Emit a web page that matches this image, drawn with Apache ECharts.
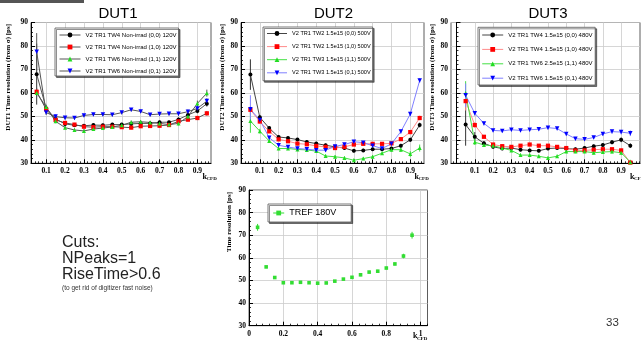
<!DOCTYPE html>
<html>
<head>
<meta charset="utf-8">
<script src="https://cdn.jsdelivr.net/npm/echarts@6/dist/echarts.min.js"></script>
<style>
html,body{margin:0;padding:0;background:#fff;}
#chart{width:641px;height:341px;}
</style>
</head>
<body>
<div id="chart"></div>
<script>
// k_CFD scan points shared by every graph
const kCFD = [0.05, 0.10, 0.15, 0.20, 0.25, 0.30, 0.35, 0.40, 0.45, 0.50, 0.55, 0.60, 0.65, 0.70, 0.75, 0.80, 0.85, 0.90, 0.95];

// DUT1 time resolution [ps], non-irradiated, 120 V
const dut1Names = ['V2 TR1 TW4 Non-irrad (0,0) 120V', 'V2 TR1 TW4 Non-irrad (1,0) 120V', 'V2 TR1 TW6 Non-irrad (1,1) 120V', 'V2 TR1 TW6 Non-irrad (0,1) 120V'];
const dut1_00 = [68.0, 53.5, 48.9, 46.8, 46.2, 46.0, 46.3, 46.2, 46.5, 46.5, 46.8, 47.0, 47.0, 47.5, 47.5, 48.7, 50.6, 52.3, 55.4];
const dut1_10 = [60.5, 53.0, 48.5, 47.2, 46.5, 45.6, 45.4, 45.6, 45.6, 45.4, 45.2, 45.8, 45.9, 46.0, 46.3, 47.9, 48.6, 49.3, 51.3];
const dut1_11 = [60.0, 54.0, 47.9, 45.2, 44.2, 43.8, 44.6, 45.0, 45.5, 46.2, 47.5, 47.7, 47.4, 47.0, 46.5, 47.0, 49.9, 55.5, 59.9];
const dut1_01 = [77.5, 51.6, 49.9, 49.4, 49.3, 50.4, 50.8, 50.8, 50.7, 51.6, 52.8, 52.1, 50.7, 51.0, 51.1, 51.1, 52.0, 53.4, 56.5];
const dut1_00_err = [13.0, 1.2, 0.8, 0.7, 0.7, 0.7, 0.7, 0.7, 0.7, 0.7, 0.7, 0.7, 0.7, 0.7, 0.7, 0.8, 0.9, 1.0, 1.2];
const dut1_10_err = [1.5, 1.0, 0.8, 0.7, 0.7, 0.7, 0.7, 0.7, 0.7, 0.7, 0.7, 0.7, 0.7, 0.7, 0.7, 0.8, 0.8, 0.9, 1.0];
const dut1_11_err = [1.5, 1.0, 0.8, 0.7, 0.7, 0.7, 0.7, 0.7, 0.7, 0.7, 0.7, 0.7, 0.7, 0.7, 0.7, 0.8, 1.0, 1.2, 1.5];
const dut1_01_err = [8.0, 1.0, 0.8, 0.7, 0.7, 0.7, 0.7, 0.7, 0.7, 0.7, 0.7, 0.7, 0.7, 0.7, 0.7, 0.8, 0.9, 1.0, 1.2];

// DUT2 time resolution [ps], 1.5e15, 500 V
const dut2Names = ['V2 TR1 TW2 1.5e15 (0,0) 500V', 'V2 TR1 TW2 1.5e15 (1,0) 500V', 'V2 TR1 TW3 1.5e15 (1,1) 500V', 'V2 TR1 TW3 1.5e15 (0,1) 500V'];
const dut2_00 = [67.8, 49.6, 45.0, 41.2, 40.8, 40.1, 39.1, 38.4, 37.7, 37.0, 36.5, 35.3, 35.5, 36.0, 36.0, 36.3, 37.5, 40.0, 46.3];
const dut2_10 = [52.8, 47.8, 43.6, 40.2, 39.4, 38.4, 38.1, 37.4, 37.0, 36.5, 37.0, 38.0, 38.3, 38.3, 38.3, 38.5, 40.3, 43.3, 49.3];
const dut2_11 = [48.0, 43.7, 39.5, 36.3, 36.3, 35.9, 35.7, 35.2, 33.1, 32.8, 32.3, 31.3, 32.0, 32.8, 34.3, 35.8, 35.8, 34.0, 36.5];
const dut2_01 = [53.0, 48.5, 40.9, 37.7, 36.9, 36.3, 36.0, 35.6, 35.6, 37.2, 38.0, 39.2, 38.8, 37.5, 36.3, 38.3, 43.5, 51.0, 65.3];
const dut2_00_err = [6.5, 1.0, 0.8, 0.7, 0.7, 0.7, 0.7, 0.7, 0.7, 0.7, 0.7, 0.7, 0.7, 0.7, 0.7, 0.7, 0.8, 0.9, 1.0];
const dut2_10_err = [1.5, 1.0, 0.8, 0.7, 0.7, 0.7, 0.7, 0.7, 0.7, 0.7, 0.7, 0.7, 0.7, 0.7, 0.7, 0.7, 0.8, 0.9, 1.0];
const dut2_11_err = [5.0, 1.0, 0.8, 0.7, 0.7, 0.7, 0.7, 0.7, 0.7, 0.7, 0.7, 0.7, 0.7, 0.7, 0.7, 0.8, 1.0, 1.2, 1.5];
const dut2_01_err = [6.0, 1.0, 0.8, 0.7, 0.7, 0.7, 0.7, 0.7, 0.7, 0.7, 0.7, 0.7, 0.7, 0.7, 0.7, 0.8, 0.9, 1.0, 1.0];

// DUT3 time resolution [ps], 480 V
const dut3Names = ['V2 TR1 TW4 1.5e15 (0,0) 480V', 'V2 TR1 TW4 1.5e15 (1,0) 480V', 'V2 TR1 TW6 2.5e15 (1,1) 480V', 'V2 TR1 TW6 1.5e15 (0,1) 480V'];
const dut3_00 = [46.5, 41.3, 38.5, 37.0, 36.3, 36.5, 35.8, 35.5, 35.3, 36.3, 36.5, 36.3, 36.0, 36.5, 37.3, 37.8, 39.0, 40.0, 37.5];
const dut3_10 = [56.5, 46.3, 41.3, 38.0, 37.3, 37.0, 37.5, 38.0, 37.5, 37.5, 37.0, 36.5, 35.5, 35.5, 35.8, 36.0, 36.0, 35.5, 30.3];
const dut3_11 = [60.0, 39.0, 37.8, 37.5, 36.5, 35.5, 33.5, 33.5, 33.0, 32.3, 33.0, 35.0, 35.0, 35.0, 34.5, 34.8, 35.0, 34.5, 30.5];
const dut3_01 = [59.0, 51.3, 47.0, 44.0, 43.8, 44.3, 44.0, 44.3, 44.5, 45.2, 44.8, 42.5, 40.5, 40.2, 41.0, 42.5, 43.5, 43.3, 42.8];
const dut3_00_err = [9.0, 2.0, 1.0, 0.8, 0.7, 0.7, 0.7, 0.7, 0.7, 0.7, 0.7, 0.7, 0.7, 0.7, 0.7, 0.8, 0.9, 1.0, 1.0];
const dut3_10_err = [4.0, 1.2, 0.8, 0.7, 0.7, 0.7, 0.7, 0.7, 0.7, 0.7, 0.7, 0.7, 0.7, 0.7, 0.7, 0.8, 0.8, 0.9, 1.0];
const dut3_11_err = [5.0, 1.2, 0.8, 0.7, 0.7, 0.7, 0.7, 0.7, 0.7, 0.7, 0.7, 0.7, 0.7, 0.7, 0.7, 0.8, 0.9, 1.0, 1.0];
const dut3_01_err = [5.0, 1.0, 0.8, 0.7, 0.7, 0.7, 0.7, 0.7, 0.7, 0.7, 0.7, 0.7, 0.7, 0.7, 0.7, 0.8, 0.9, 1.0, 1.2];

// Reference (TREF) time resolution [ps], 180 V
const trefNames = ['TREF 180V'];
const tref = [73.5, 56.0, 51.3, 49.0, 49.0, 49.2, 49.0, 48.8, 48.9, 49.7, 50.6, 51.4, 52.5, 53.7, 54.1, 55.5, 57.3, 60.8, 70.0];
const tref_err = [1.5, 0.6, 0.6, 0.5, 0.5, 0.5, 0.5, 0.5, 0.5, 0.5, 0.5, 0.5, 0.6, 0.6, 0.6, 0.6, 0.7, 1.0, 1.5];

// Tick labels
const kTicks = [0.1, 0.2, 0.3, 0.4, 0.5, 0.6, 0.7, 0.8, 0.9];
const kTicksTref = [0, 0.2, 0.4, 0.6, 0.8, 1];

// ---------------------------------------------------------------------------
const SERIF = '"Liberation Serif", "DejaVu Serif", serif';
const SANS = '"Liberation Sans", Arial, sans-serif';

const MARK = {
  k: { symbol: 'circle', size: 4, rot: 0, color: '#000000' },
  r: { symbol: 'rect', size: 4.2, rot: 0, color: '#ff0000' },
  g: { symbol: 'triangle', size: 4, rot: 0, color: '#22dd22' },
  b: { symbol: 'triangle', size: 4.5, rot: 180, color: '#0000ff' },
  s: { symbol: 'rect', size: 3.6, rot: 0, color: '#33dd33' }
};

function minorSteps(lo, hi, step) {
  const out = [];
  for (let v = Math.ceil(lo / step - 1e-9); v * step <= hi + 1e-9; v++) out.push(+(v * step).toFixed(4));
  return out;
}

const panels = [
  {
    grid: { left: 31, top: 22.5, width: 180, height: 140.8 },
    xMin: 0.02, xMax: 0.972, major: kTicks, minorStep: 0.02,
    legend: { names: dut1Names, left: 55, top: 28, pad: [3, 2, 1, 4], gap: 4, textW: 90, itemW: 21, font: 6 },
    curves: [
      { name: dut1Names[0], v: dut1_00, e: dut1_00_err, m: 'k', line: '#555555' },
      { name: dut1Names[1], v: dut1_10, e: dut1_10_err, m: 'r', line: '#555555' },
      { name: dut1Names[2], v: dut1_11, e: dut1_11_err, m: 'g', line: '#555555' },
      { name: dut1Names[3], v: dut1_01, e: dut1_01_err, m: 'b', line: '#555555' }
    ]
  },
  {
    grid: { left: 241, top: 22.5, width: 183, height: 140.8 },
    xMin: 0, xMax: 0.973, major: kTicks, minorStep: 0.02,
    legend: { names: dut2Names, left: 263, top: 27, pad: [2.5, 2, 4, 3.5], gap: 5.1, textW: 71, itemW: 20, font: 5.6 },
    curves: [
      { name: dut2Names[0], v: dut2_00, e: dut2_00_err, m: 'k', line: '#444444' },
      { name: dut2Names[1], v: dut2_10, e: dut2_10_err, m: 'r', line: '#ff8a8a' },
      { name: dut2Names[2], v: dut2_11, e: dut2_11_err, m: 'g', line: '#44e044' },
      { name: dut2Names[3], v: dut2_01, e: dut2_01_err, m: 'b', line: '#8080ff' }
    ]
  },
  {
    grid: { left: 451, top: 22.5, width: 189, height: 140.8 },
    xMin: -0.03, xMax: 1.003, major: kTicks, minorStep: 0.02,
    legend: { names: dut3Names, left: 478, top: 27.3, pad: [3.7, 2, 2.8, 3.7], gap: 6.4, textW: 85, itemW: 21, font: 6 },
    curves: [
      { name: dut3Names[0], v: dut3_00, e: dut3_00_err, m: 'k', line: '#444444' },
      { name: dut3Names[1], v: dut3_10, e: dut3_10_err, m: 'r', line: '#ff8a8a' },
      { name: dut3Names[2], v: dut3_11, e: dut3_11_err, m: 'g', line: '#44e044' },
      { name: dut3Names[3], v: dut3_01, e: dut3_01_err, m: 'b', line: '#8080ff' }
    ]
  },
  {
    grid: { left: 249, top: 190, width: 178.5, height: 135.7 },
    xMin: 0, xMax: 1.04, major: kTicksTref, minorStep: 0.04,
    legend: { names: trefNames, left: 268, top: 204, pad: [3.5, 1, 3.5, 4.7], gap: 0, textW: 61, itemW: 11, font: 9, lineH: 11 },
    curves: [
      { name: trefNames[0], v: tref, e: tref_err, m: 's', line: null }
    ]
  }
];

function errorBar(params, api) {
  const x = api.value(0), y = api.value(1), e = api.value(2);
  const a = api.coord([x, y - e]);
  const b = api.coord([x, y + e]);
  return {
    type: 'line',
    shape: { x1: a[0], y1: a[1], x2: b[0], y2: b[1] },
    style: { stroke: api.visual('color'), lineWidth: 1 }
  };
}

const option = {
  animation: false,
  backgroundColor: '#ffffff',
  grid: [], xAxis: [], yAxis: [], series: [], legend: []
};

panels.forEach((p, gi) => {
  option.grid.push(Object.assign({ show: true, borderColor: '#333', borderWidth: 0.8, backgroundColor: 'transparent' }, p.grid));

  const labelStyle = { color: '#000', fontFamily: SERIF, fontWeight: 'bold', fontSize: 7.5 };
  option.xAxis.push({
    type: 'value', gridIndex: gi, position: 'bottom', min: p.xMin, max: p.xMax,
    axisLine: { show: true, lineStyle: { color: '#000', width: 1 } },
    axisTick: { show: true, inside: true, length: 4, customValues: p.major, lineStyle: { color: '#000', width: 1 } },
    axisLabel: { customValues: p.major, margin: 4, formatter: v => String(+v.toFixed(2)), ...labelStyle },
    splitLine: { show: true, lineStyle: { color: '#cccccc', width: 0.8 } }
  });
  // finer tick marks along the k_CFD axis
  option.xAxis.push({
    type: 'value', gridIndex: gi, position: 'bottom', min: p.xMin, max: p.xMax,
    axisLine: { show: false },
    axisTick: { show: true, inside: true, length: 2, customValues: minorSteps(p.xMin, p.xMax, p.minorStep), lineStyle: { color: '#000', width: 0.8 } },
    axisLabel: { show: false },
    splitLine: { show: false }
  });
  option.yAxis.push({
    type: 'value', gridIndex: gi, min: 30, max: 90, interval: 10,
    axisLine: { show: true, lineStyle: { color: '#000', width: 1 } },
    axisTick: { show: true, inside: true, length: 4, lineStyle: { color: '#000', width: 1 } },
    minorTick: { show: true, splitNumber: 5, length: 2, lineStyle: { color: '#000', width: 0.8 } },
    axisLabel: { margin: 3, ...labelStyle },
    splitLine: { show: true, lineStyle: { color: '#cccccc', width: 0.8 } }
  });

  p.curves.forEach(c => {
    const mk = MARK[c.m];
    const pts = kCFD.map((k, i) => [k, c.v[i]]);
    option.series.push({
      type: 'custom', xAxisIndex: gi * 2, yAxisIndex: gi, clip: true, silent: true,
      itemStyle: { color: c.line && c.m === 'k' ? '#333' : (c.line || mk.color) },
      renderItem: errorBar,
      encode: { x: 0, y: 1 },
      data: kCFD.map((k, i) => [k, c.v[i], c.e[i]]),
      z: 2
    });
    option.series.push({
      type: 'line', name: c.name, xAxisIndex: gi * 2, yAxisIndex: gi,
      data: pts, clip: true, silent: true,
      symbol: mk.symbol, symbolSize: mk.size, symbolRotate: mk.rot,
      itemStyle: { color: mk.color },
      lineStyle: c.line ? { color: c.line, width: 1 } : { color: mk.color, width: 1, opacity: 0 },
      z: 3
    });
  });

  const L = p.legend;
  const lh = L.lineH || 8;
  option.legend.push({
    data: L.names, orient: 'vertical', left: L.left, top: L.top,
    padding: L.pad, itemGap: L.gap, itemWidth: L.itemW, itemHeight: 6,
    selectedMode: false,
    backgroundColor: '#ffffff', borderColor: '#555', borderWidth: 0.8,
    shadowColor: 'rgba(0,0,0,0.55)', shadowOffsetX: 1.5, shadowOffsetY: 1.5, shadowBlur: 0,
    lineStyle: { opacity: 1, color: 'inherit', width: 1 },
    textStyle: { color: '#000', fontFamily: SANS, fontSize: L.font, lineHeight: lh, width: L.textW, overflow: 'none' }
  });
});

function txt(x, y, text, font, opts) {
  return Object.assign({ type: 'text', x: x, y: y, silent: true,
    style: Object.assign({ text: text, font: font, fill: '#000', textAlign: 'left', textVerticalAlign: 'middle' }, opts || {}) });
}
function ytitle(x, yTop, text) {
  return { type: 'text', x: x, y: yTop, rotation: Math.PI / 2, silent: true,
    style: { text: text, font: 'bold 7px ' + SERIF, fill: '#000', textAlign: 'right', textVerticalAlign: 'middle' } };
}
function kTitle(x, y) {
  return [
    txt(x, y, 'k', 'bold 8px ' + SERIF),
    txt(x + 4, y + 2.5, 'CFD', 'bold 5px ' + SERIF)
  ];
}

option.graphic = [
  { type: 'rect', shape: { x: 0, y: 0, width: 84, height: 3 }, style: { fill: '#555555' }, silent: true },
  txt(118, 13.5, 'DUT1', '15px ' + SANS, { textAlign: 'center' }),
  txt(333.5, 13.5, 'DUT2', '15px ' + SANS, { textAlign: 'center' }),
  txt(548, 13.5, 'DUT3', '15px ' + SANS, { textAlign: 'center' }),
  ytitle(8.5, 24, 'DUT1 Time resolution (from \u03c3) [ps]'),
  ytitle(222.3, 24, 'DUT2 Time resolution (from \u03c3) [ps]'),
  ytitle(432.3, 24, 'DUT3 Time resolution (from \u03c3) [ps]'),
  ytitle(229, 192, 'Time resolution [ps]'),
  ...kTitle(202.5, 176.5),
  ...kTitle(414.5, 176.5),
  ...kTitle(630, 176.5),
  ...kTitle(413, 336),
  txt(62, 242.6, 'Cuts:', '16px ' + SANS, { fill: '#222' }),
  txt(62, 258.3, 'NPeaks=1', '16px ' + SANS, { fill: '#222' }),
  txt(62, 275, 'RiseTime>0.6', '16px ' + SANS, { fill: '#222' }),
  txt(62, 288.5, '(to get rid of digitizer fast noise)', '6.5px ' + SANS, { fill: '#333' }),
  txt(612.5, 322.5, '33', '11.5px ' + SANS, { fill: '#333', textAlign: 'center' })
];

const chart = echarts.init(document.getElementById('chart'), null, { renderer: 'canvas' });
chart.setOption(option);
</script>
</body>
</html>
